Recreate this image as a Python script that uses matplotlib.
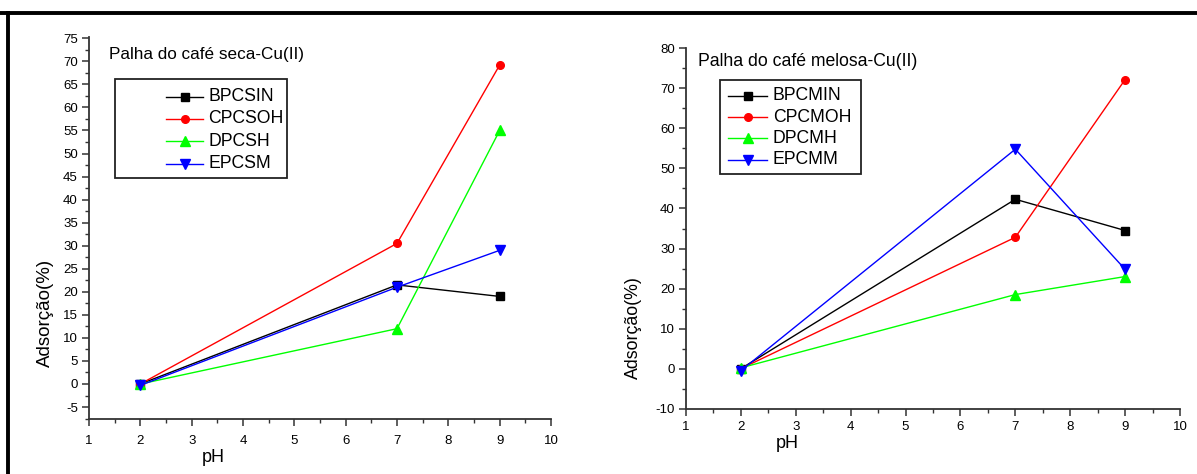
import matplotlib
matplotlib.use("Agg")
import matplotlib.pyplot as plt
from matplotlib.lines import Line2D
from matplotlib.patches import Rectangle
from matplotlib.ticker import MultipleLocator

plt.rcParams["font.family"] = ["Liberation Sans", "DejaVu Sans"]
plt.rcParams["axes.unicode_minus"] = False

# dados: pH x adsorção (%)
ph = [2, 7, 9]

# palha do café seca - Cu(II)
seca_nomes = ["BPCSIN", "CPCSOH", "DPCSH", "EPCSM"]
seca_bpcsin = [0.0, 21.5, 19.0]
seca_cpcsoh = [0.0, 30.5, 69.2]
seca_dpcsh = [0.0, 12.0, 55.0]
seca_epcsm = [-0.3, 21.0, 29.0]

# palha do café melosa - Cu(II)
melosa_nomes = ["BPCMIN", "CPCMOH", "DPCMH", "EPCMM"]
melosa_bpcmin = [0.0, 42.3, 34.5]
melosa_cpcmoh = [0.0, 32.8, 72.2]
melosa_dpcmh = [0.2, 18.5, 23.0]
melosa_epcmm = [-0.5, 54.8, 24.8]

cores = ["#000000", "#ff0000", "#00ff00", "#0000ff"]
marcadores = ["s", "o", "^", "v"]
tam_marc = [5.5, 5.5, 7.5, 7.5]

W, H = 1197, 474
fig = plt.figure(figsize=(W / 100, H / 100), dpi=100)


def px(x0, y0, x1, y1):
    # caixa em pixels (topo-esquerda) -> fração da figura
    return [x0 / W, 1 - y1 / H, (x1 - x0) / W, (y1 - y0) / H]


def painel(rect, series, nomes, ylim, ymaj, ymin, titulo, tpos, tsize,
           leg_box, leg_y, leg_x, xpad):
    ax = fig.add_axes(rect)
    for ys, nome, c, m, ms in zip(series, nomes, cores, marcadores, tam_marc):
        ax.plot(ph, ys, color=c, lw=1.0, marker=m, ms=ms, mec=c, mfc=c, label=nome)
    ax.set_xlim(1, 10)
    ax.set_ylim(*ylim)
    ax.xaxis.set_major_locator(MultipleLocator(1))
    ax.xaxis.set_minor_locator(MultipleLocator(0.5))
    ax.yaxis.set_major_locator(MultipleLocator(ymaj))
    ax.yaxis.set_minor_locator(MultipleLocator(ymin))
    for s in ["top", "right"]:
        ax.spines[s].set_visible(False)
    for s in ["left", "bottom"]:
        ax.spines[s].set_color("#333333")
        ax.spines[s].set_linewidth(1.3)
    ax.tick_params(which="major", direction="out", length=5, width=1.1,
                   color="#333333", labelsize=9.5, pad=3)
    ax.tick_params(which="minor", direction="out", length=3, width=1.0, color="#333333")
    ax.tick_params(axis="x", pad=xpad)
    fig.text(tpos[0] / W, 1 - tpos[1] / H, titulo, fontsize=tsize, va="center", ha="left")

    # caixa da legenda
    x0, y0, x1, y1 = leg_box
    fig.patches.append(Rectangle((x0 / W, 1 - y1 / H), (x1 - x0) / W, (y1 - y0) / H,
                                 transform=fig.transFigure, fill=False,
                                 ec="#222222", lw=1.3))
    for i, (nome, c, m, ms) in enumerate(zip(nomes, cores, marcadores, tam_marc)):
        yy = 1 - leg_y[i] / H
        hx0, hx1, tx = leg_x
        fig.lines.append(Line2D([hx0 / W, hx1 / W], [yy, yy], transform=fig.transFigure,
                                color=c, lw=1.0))
        fig.lines.append(Line2D([(hx0 + hx1) / 2 / W], [yy], transform=fig.transFigure,
                                color=c, marker=m, ms=ms, mec=c, mfc=c))
        fig.text(tx / W, yy, nome, fontsize=12.7, va="center", ha="left")
    return ax


painel(px(89, 36.7, 551, 419.3),
       [seca_bpcsin, seca_cpcsoh, seca_dpcsh, seca_epcsm], seca_nomes,
       (-7.66, 75.35), 5, 2.5, "Palha do café seca-Cu(II)", (109, 55), 12.3,
       (115, 79, 287, 178), [96.5, 119, 141, 164], (166, 203, 208), 6)

painel(px(686, 48.3, 1180, 408.7),
       [melosa_bpcmin, melosa_cpcmoh, melosa_dpcmh, melosa_epcmm], melosa_nomes,
       (-10, 80), 10, 5, "Palha do café melosa-Cu(II)", (698, 62), 12.7,
       (720, 80, 861, 174), [95.5, 117, 138.5, 160], (728, 767, 773), 4)

# rótulos dos eixos
fig.text(213 / W, 1 - 457 / H, "pH", fontsize=13, ha="center", va="center")
fig.text(45 / W, 1 - 313 / H, "Adsorção(%)", fontsize=13.5, ha="center", va="center",
         rotation=90)
fig.text(787 / W, 1 - 443 / H, "pH", fontsize=13, ha="center", va="center")
fig.text(633 / W, 1 - 328 / H, "Adsorção(%)", fontsize=12.8, ha="center", va="center",
         rotation=90)

# moldura preta (topo e lado esquerdo)
fig.lines.append(Line2D([0, 1], [1 - 12.5 / H, 1 - 12.5 / H], transform=fig.transFigure,
                        color="black", lw=2.8, solid_capstyle="butt"))
fig.lines.append(Line2D([8 / W, 8 / W], [0, 1 - 11 / H], transform=fig.transFigure,
                        color="black", lw=2.8, solid_capstyle="butt"))

fig.savefig("out.png", dpi=100)
